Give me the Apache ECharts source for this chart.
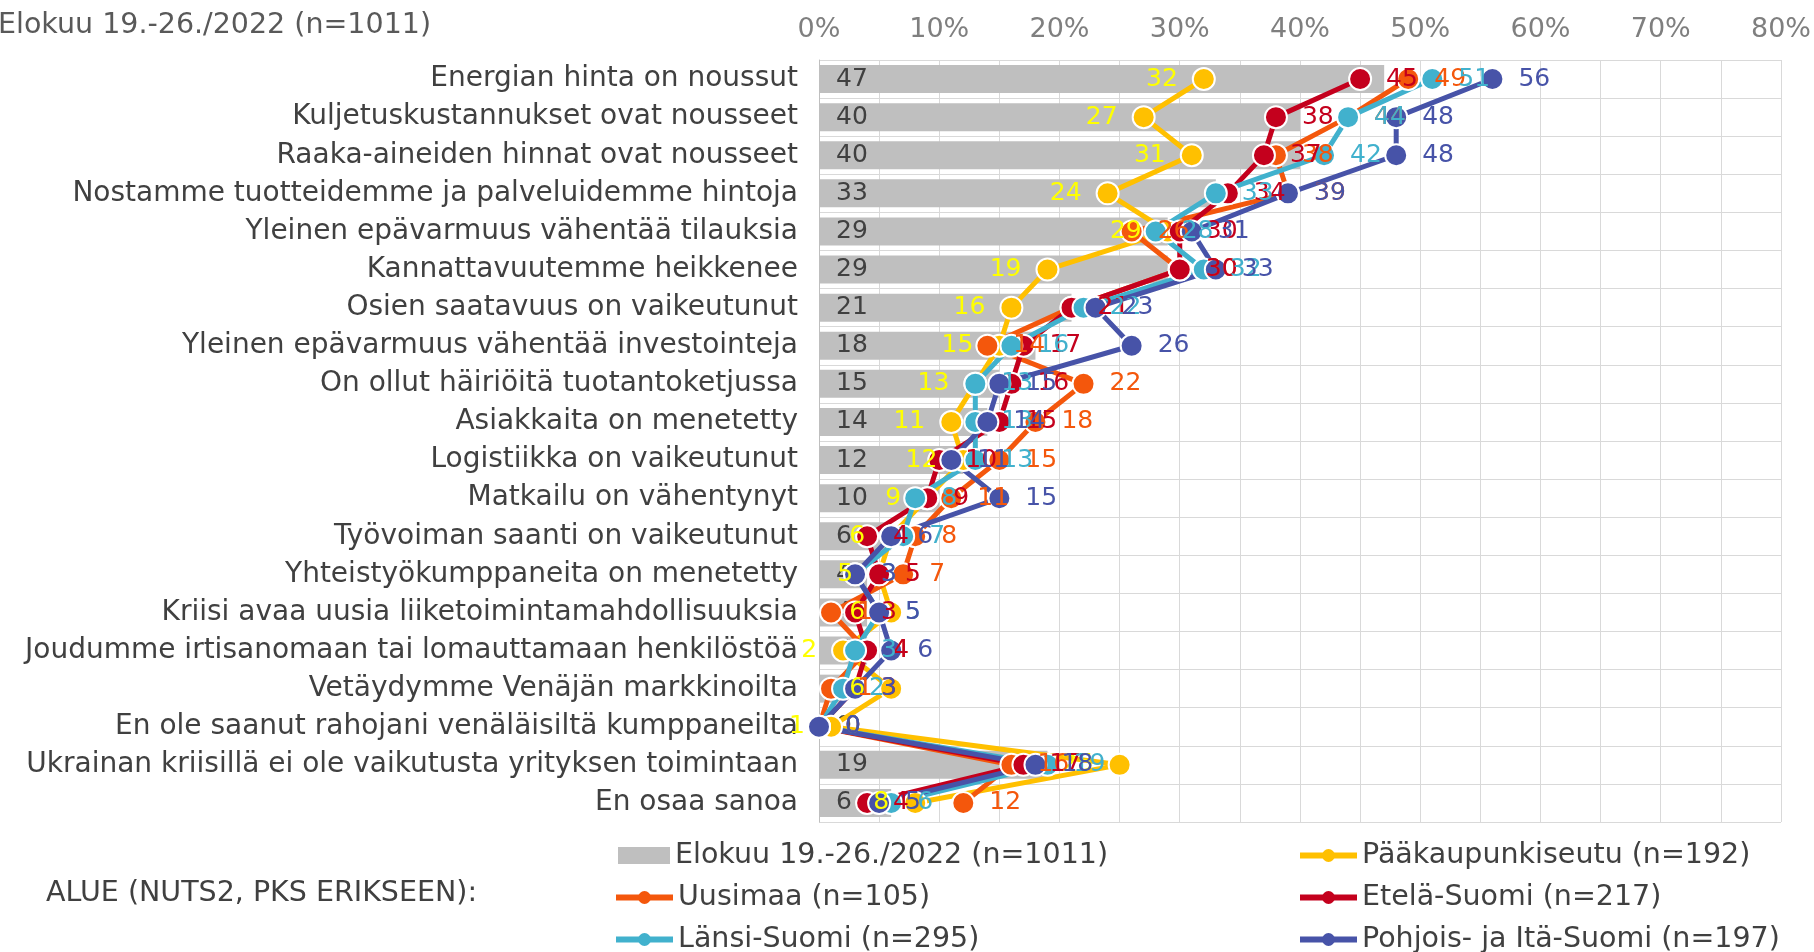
<!DOCTYPE html>
<html>
<head>
<meta charset="utf-8">
<script src="https://cdn.jsdelivr.net/npm/echarts@6/dist/echarts.min.js"></script>
<style>
  html, body { margin: 0; padding: 0; background: #fff; }
  #main { width: 1814px; height: 952px; }
</style>
</head>
<body>
<div id="main"></div>
<script type="text/javascript">
  // kategoriat
  var categories = [
    'Energian hinta on noussut',
    'Kuljetuskustannukset ovat nousseet',
    'Raaka-aineiden hinnat ovat nousseet',
    'Nostamme tuotteidemme ja palveluidemme hintoja',
    'Yleinen epävarmuus vähentää tilauksia',
    'Kannattavuutemme heikkenee',
    'Osien saatavuus on vaikeutunut',
    'Yleinen epävarmuus vähentää investointeja',
    'On ollut häiriöitä tuotantoketjussa',
    'Asiakkaita on menetetty',
    'Logistiikka on vaikeutunut',
    'Matkailu on vähentynyt',
    'Työvoiman saanti on vaikeutunut',
    'Yhteistyökumppaneita on menetetty',
    'Kriisi avaa uusia liiketoimintamahdollisuuksia',
    'Joudumme irtisanomaan tai lomauttamaan henkilöstöä',
    'Vetäydymme Venäjän markkinoilta',
    'En ole saanut rahojani venäläisiltä kumppaneilta',
    'Ukrainan kriisillä ei ole vaikutusta yrityksen toimintaan',
    'En osaa sanoa'
  ];

  // sarjat (%)
  var kaikki   = [47, 40, 40, 33, 29, 29, 21, 18, 15, 14, 12, 10, 6, 4, 4, 4, 2, 0, 19, 6];
  var pks      = [32, 27, 31, 24, 29, 19, 16, 15, 13, 11, 12, 9, 6, 5, 6, 2, 6, 1, 25, 8];
  var uusimaa  = [49, 44, 38, 39, 26, 30, 21, 14, 22, 18, 15, 11, 8, 7, 1, 4, 1, 0, 16, 12];
  var etela    = [45, 38, 37, 34, 30, 30, 21, 17, 16, 15, 10, 9, 4, 5, 3, 4, 3, 0, 17, 4];
  var lansi    = [51, 44, 42, 33, 28, 32, 22, 16, 13, 13, 13, 8, 7, 3, 5, 3, 2, 0, 19, 6];
  var pohjois  = [56, 48, 48, 39, 31, 33, 23, 26, 15, 14, 11, 15, 6, 3, 5, 6, 3, 0, 18, 5];

  var barName = 'Elokuu 19.-26./2022 (n=1011)';
  var font = 'DejaVu Sans';

  function lineSeries(name, data, color, labelColor, labelPos) {
    return {
      name: name,
      type: 'line',
      data: data,
      symbol: 'circle',
      symbolSize: 22,
      lineStyle: { width: 5, color: color },
      itemStyle: { color: color, borderColor: '#fff', borderWidth: 2 },
      label: {
        show: true,
        position: labelPos,
        distance: 14,
        color: labelColor,
        fontFamily: font,
        fontSize: 25
      },
      z: 3
    };
  }

  // yksi legenda per rivi, ettei pystylegenda rivity
  function legendItem(name, left, cy, isBar) {
    return {
      orient: 'vertical',
      left: left,
      top: cy - 17,
      itemWidth: isBar ? 52 : 57,
      itemHeight: isBar ? 17 : 16,
      lineStyle: { width: 6 },
      itemStyle: { borderWidth: 0 },
      textStyle: { fontFamily: font, fontSize: 28.5, color: '#404040' },
      data: [isBar ? { name: name, icon: 'rect' } : name]
    };
  }

  var myChart = echarts.init(document.getElementById('main'));

  var option = {
    animation: false,
    textStyle: { fontFamily: font },
    grid: { left: 819, right: 27, top: 60, bottom: 130 },
    graphic: [
      {
        type: 'text', left: -2, top: 11,
        style: { text: barName, fontFamily: font, fontSize: 28.5, fill: '#595959' }
      },
      {
        type: 'text', left: 46, top: 879,
        style: { text: 'ALUE (NUTS2, PKS ERIKSEEN):', fontFamily: font, fontSize: 28.5, fill: '#404040' }
      }
    ],
    legend: [
      legendItem(barName, 613, 853, true),
      legendItem('Uusimaa (n=105)', 608, 895, false),
      legendItem('Länsi-Suomi (n=295)', 608, 937, false),
      legendItem('Pääkaupunkiseutu (n=192)', 1292, 853, false),
      legendItem('Etelä-Suomi (n=217)', 1292, 895, false),
      legendItem('Pohjois- ja Itä-Suomi (n=197)', 1292, 937, false)
    ],
    xAxis: {
      type: 'value',
      position: 'top',
      min: 0, max: 80, interval: 5,
      axisLine: { show: false },
      axisTick: { show: false },
      axisLabel: {
        margin: 17,
        fontSize: 27,
        color: '#7f7f7f',
        formatter: function (v) { return v % 10 === 0 ? v + '%' : ''; }
      },
      splitLine: { lineStyle: { color: '#d9d9d9', width: 1 } }
    },
    yAxis: {
      type: 'category',
      inverse: true,
      data: categories,
      axisLine: { show: true, lineStyle: { color: '#bfbfbf' } },
      axisTick: { show: false },
      axisLabel: { margin: 21, fontSize: 28, color: '#404040' },
      splitLine: { show: true, lineStyle: { color: '#d9d9d9', width: 1 } }
    },
    series: [
      {
        name: barName,
        type: 'bar',
        data: kaikki,
        barWidth: 28,
        itemStyle: { color: '#bfbfbf' },
        label: {
          show: true, position: 'insideLeft', distance: 17,
          color: '#404040', fontFamily: font, fontSize: 25
        },
        z: 2
      },
      lineSeries('Pääkaupunkiseutu (n=192)', pks, '#ffc000', '#ffff00', 'left'),
      lineSeries('Uusimaa (n=105)', uusimaa, '#f4570c', '#f4570c', 'right'),
      lineSeries('Etelä-Suomi (n=217)', etela, '#c4001d', '#c4001d', 'right'),
      lineSeries('Länsi-Suomi (n=295)', lansi, '#41b1cd', '#41b1cd', 'right'),
      lineSeries('Pohjois- ja Itä-Suomi (n=197)', pohjois, '#4753a8', '#4753a8', 'right')
    ]
  };

  myChart.setOption(option);
</script>
</body>
</html>
